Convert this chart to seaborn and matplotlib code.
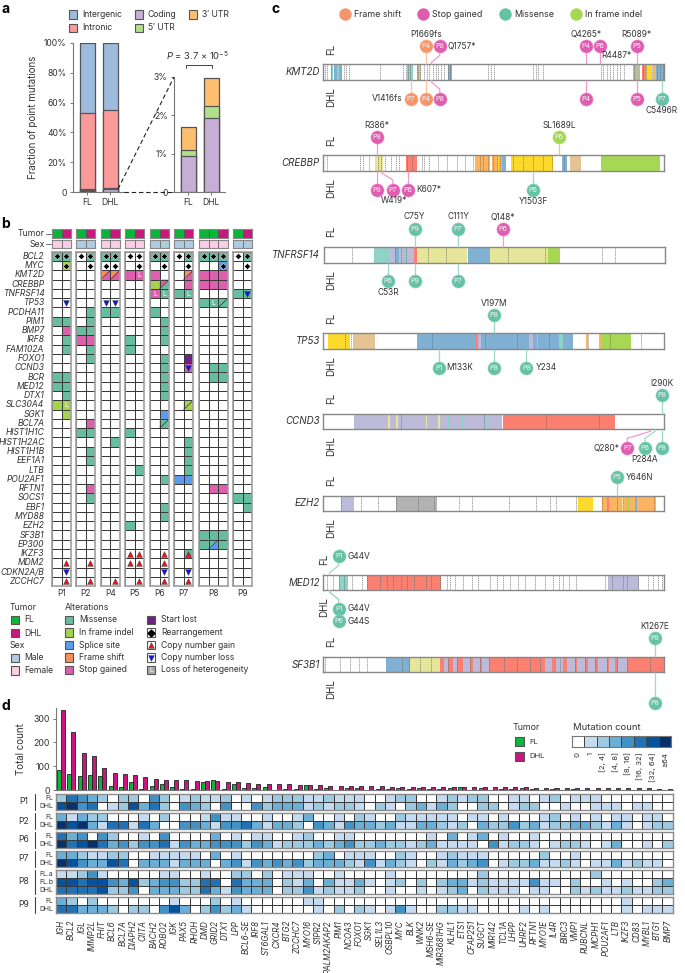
import matplotlib
matplotlib.use('Agg')
import matplotlib.pyplot as plt
import seaborn as sns
import numpy as np
import pandas as pd
from matplotlib.colors import ListedColormap

sns.set_theme(style="white")
plt.rcParams['font.family'] = ['Inter', 'DejaVu Sans']
plt.rcParams['mathtext.fontset'] = 'custom'
plt.rcParams['mathtext.rm'] = 'Inter'
plt.rcParams['mathtext.it'] = 'Inter:italic'

W, H = 685, 973
TXT = '#333333'

# --- Data, panel a ---
groups = ['FL', 'DHL']
region_names = ['Intergenic', 'Intronic', 'Coding', "5′ UTR", "3′ UTR"]
intronic_top = [52.8, 54.8]
coding_zoom = [0.93, 1.93]
utr5_top = [1.09, 2.25]
utr3_top = [1.70, 2.98]

# --- Data, panel b ---
onco_genes = ['BCL2', 'MYC', 'KMT2D', 'CREBBP', 'TNFRSF14', 'TP53', 'PCDHA11', 'PIM1', 'BMP7', 'IRF8',
              'FAM102A', 'FOXO1', 'CCND3', 'BCR', 'MED12', 'DTX1', 'SLC30A4', 'SGK1', 'BCL7A', 'HIST1H1C',
              'HIST1H2AC', 'HIST1H1B', 'EEF1A1', 'LTB', 'POU2AF1', 'RFTN1', 'SOCS1', 'EBF1', 'MYD88', 'EZH2',
              'SF3B1', 'EP300', 'IKZF3', 'MDM2', 'CDKN2A/B', 'ZCCHC7']
patients = ['P1', 'P2', 'P4', 'P5', 'P6', 'P7', 'P8', 'P9']
patient_tumors = [[0, 1], [0, 1], [0, 1], [0, 1], [0, 1], [0, 1], [0, 0, 1], [0, 1]]
patient_sex = [1, 0, 1, 1, 0, 0, 1, 0]

# codes: 1 missense, 2 indel, 3 splice, 4 frame shift, 5 stop, 6 start lost; sample index 0-16
onco_missense = {'BCL2': [0, 1, 3, 4, 5, 8, 9, 11, 12, 13, 14, 16], 'TNFRSF14': [9, 10, 11, 15, 16],
                 'TP53': [12, 13, 14], 'PCDHA11': [3, 4, 5, 8], 'PIM1': [0, 1, 3, 9], 'BMP7': [2, 3, 9],
                 'IRF8': [1, 6, 9], 'FAM102A': [1, 3, 6], 'FOXO1': [3, 9], 'CCND3': [9, 13, 14],
                 'BCR': [0, 1, 9, 13, 14], 'MED12': [0, 1, 9], 'DTX1': [1, 9], 'BCL7A': [9],
                 'HIST1H1C': [2, 3, 6], 'HIST1H2AC': [5, 11], 'HIST1H1B': [3, 11], 'EEF1A1': [3, 11],
                 'LTB': [7, 11], 'POU2AF1': [9], 'SOCS1': [3, 15, 16], 'EBF1': [9, 16], 'MYD88': [9],
                 'EZH2': [6], 'SF3B1': [12, 13, 14], 'EP300': [12, 14], 'IKZF3': [11]}
onco_indel = {'MYC': [1], 'CREBBP': [8], 'SLC30A4': [0, 1, 11], 'SGK1': [1]}
onco_splice = {'MYC': [14], 'SGK1': [9], 'POU2AF1': [10, 11]}
onco_stop = {'KMT2D': [6, 7, 8, 12, 13, 14], 'CREBBP': [11, 12, 13, 14], 'TNFRSF14': [8], 'BMP7': [1],
             'IRF8': [2, 3], 'CCND3': [11], 'BCL7A': [3], 'RFTN1': [3, 13, 14]}
onco_start = {'FOXO1': [11]}
onco_split = [('KMT2D', 4, 4, 5), ('KMT2D', 5, 4, 5), ('KMT2D', 11, 4, 5), ('CREBBP', 9, 5, 1),
              ('TP53', 14, 1, 1), ('SLC30A4', 11, 2, 2), ('BCL7A', 9, 1, 1), ('EP300', 13, 1, 3)]
rearranged = {'BCL2': list(range(17)), 'MYC': [1, 3, 4, 5, 7, 9, 11, 14, 16]}
cn_gain = {'IKZF3': [6, 7, 9, 11], 'MDM2': [1, 3, 6, 7, 9], 'ZCCHC7': [1, 3, 5, 7, 9, 11]}
cn_loss = {'TNFRSF14': [16], 'TP53': [1, 4, 5], 'CCND3': [11], 'CDKN2A/B': [1, 9, 11]}
loh = {'KMT2D': [7], 'TNFRSF14': [8, 9, 11], 'TP53': [13], 'SLC30A4': [1]}

# --- Data, panel c (positions in amino acids, features in 1/1023 of the track) ---
track_genes = ['KMT2D', 'CREBBP', 'TNFRSF14', 'TP53', 'CCND3', 'EZH2', 'MED12', 'SF3B1']
protein_len = {'KMT2D': 5537, 'CREBBP': 2442, 'TNFRSF14': 283, 'TP53': 393, 'CCND3': 292, 'EZH2': 751,
               'MED12': 2177, 'SF3B1': 1304}
kmt2d_muts = [(1669, 'FL', 'P4', 'fs', 'P1669fs'), (1757, 'FL', 'P8', 'stop', 'Q1757*'),
              (4265, 'FL', 'P4', 'stop', 'Q4265*'), (4487, 'FL', 'P6', 'stop', 'R4487*'),
              (5089, 'FL', 'P5', 'stop', 'R5089*'), (1416, 'DHL', 'P7', 'fs', 'V1416fs'),
              (1669, 'DHL', 'P4', 'fs', ''), (1757, 'DHL', 'P8', 'stop', ''), (4265, 'DHL', 'P4', 'stop', ''),
              (5089, 'DHL', 'P5', 'stop', ''), (5496, 'DHL', 'P7', 'mis', 'C5496R')]
crebbp_muts = [(386, 'FL', 'P8', 'stop', 'R386*'), (1689, 'FL', 'P6', 'indel', 'SL1689L'),
               (386, 'DHL', 'P8', 'stop', ''), (419, 'DHL', 'P7', 'stop', 'W419*'),
               (607, 'DHL', 'P6', 'stop', 'K607*'), (1503, 'DHL', 'P6', 'mis', 'Y1503F')]
tnfrsf14_muts = [(75, 'FL', 'P9', 'mis', 'C75Y'), (111, 'FL', 'P7', 'mis', 'C111Y'),
                 (148, 'FL', 'P6', 'stop', 'Q148*'), (53, 'DHL', 'P6', 'mis', 'C53R'),
                 (75, 'DHL', 'P9', 'mis', ''), (111, 'DHL', 'P7', 'mis', '')]
tp53_muts = [(197, 'FL', 'P8', 'mis', 'V197M'), (133, 'DHL', 'P1', 'mis', 'M133K'),
             (197, 'DHL', 'P8', 'mis', ''), (234, 'DHL', 'P8', 'mis', 'Y234')]
ccnd3_muts = [(290, 'FL', 'P8', 'mis', 'I290K'), (280, 'DHL', 'P7', 'stop', 'Q280*'),
              (284, 'DHL', 'P6', 'mis', 'P284A'), (290, 'DHL', 'P8', 'mis', '')]
ezh2_muts = [(646, 'FL', 'P5', 'mis', 'Y646N')]
med12_muts = [(44, 'FL', 'P1', 'mis', 'G44V'), (44, 'DHL', 'P1', 'mis', 'G44V'), (44, 'DHL', 'P6', 'mis', 'G44S')]
sf3b1_muts = [(1267, 'FL', 'P8', 'mis', 'K1267E'), (1267, 'DHL', 'P8', 'mis', '')]
track_muts = dict(zip(track_genes, [kmt2d_muts, crebbp_muts, tnfrsf14_muts, tp53_muts, ccnd3_muts, ezh2_muts,
                                    med12_muts, sf3b1_muts]))

kmt2d_domains = [(23, 30, 'teal'), (33, 40, 'blue'), (40, 47, 'teal'), (47, 55, 'blue'), (252, 268, 'teal'),
                 (280, 292, 'tan'), (373, 385, 'blue'), (930, 950, 'sage'), (956, 967, 'salmon'),
                 (968, 985, 'yellow'), (990, 998, 'orange'), (998, 1023, 'blue')]
crebbp_domains = [(155, 180, 'pale'), (247, 280, 'salmon'), (455, 500, 'orange'), (505, 535, 'orange'),
                  (520, 528, 'yellow'), (535, 548, 'blue'), (562, 690, 'yellow'), (715, 730, 'blue'),
                  (740, 773, 'tan'), (833, 1010, 'green')]
tnfrsf14_domains = [(148, 195, 'teal'), (195, 270, 'lav'), (213, 225, 'blue'), (235, 245, 'teal'),
                    (269, 277, 'salmon'), (277, 429, 'pale'), (432, 497, 'blue'), (497, 670, 'pale'),
                    (670, 706, 'green')]
tp53_domains = [(14, 80, 'yellow'), (88, 155, 'tan'), (281, 748, 'blue'), (457, 463, 'salmon'), (465, 472, 'lav'),
                (618, 630, 'lav'), (640, 645, 'teal'), (708, 720, 'teal'), (788, 795, 'orange'),
                (827, 833, 'orange'), (833, 922, 'green')]
ccnd3_domains = [(92, 535, 'lav'), (194, 200, 'pale'), (218, 224, 'pale'), (308, 311, 'pale'), (343, 350, 'pale'),
                 (373, 377, 'teal'), (415, 418, 'teal'), (485, 492, 'teal'), (538, 876, 'salmon')]
ezh2_domains = [(52, 92, 'lav'), (217, 340, 'gray'), (763, 808, 'yellow'), (835, 997, 'orange'), (850, 858, 'salmon'),
                (895, 903, 'pale'), (912, 918, 'green'), (935, 942, 'blue')]
med12_domains = [(49, 76, 'teal'), (134, 354, 'salmon'), (855, 948, 'lav')]
sf3b1_domains = [(188, 260, 'blue'), (260, 350, 'pale'), (350, 1023, 'salmon'), (362, 375, 'lav'), (390, 402, 'lav'),
                 (418, 440, 'lav'), (450, 470, 'lav'), (475, 498, 'lav'), (665, 685, 'lav'), (695, 720, 'lav'),
                 (730, 755, 'lav'), (762, 785, 'lav'), (795, 815, 'lav'), (825, 850, 'lav'), (858, 875, 'lav'),
                 (885, 910, 'lav')]
track_domains = dict(zip(track_genes, [kmt2d_domains, crebbp_domains, tnfrsf14_domains, tp53_domains, ccnd3_domains,
                                       ezh2_domains, med12_domains, sf3b1_domains]))

kmt2d_exons = [5, 12, 22, 62, 68, 76, 171, 240, 247, 253, 260, 280, 285, 290, 302, 310, 318, 328, 337, 345, 354, 362,
               373, 380, 495, 502, 512, 630, 637, 645, 660, 832, 840, 850, 860, 870, 880, 890, 902, 932, 960, 968, 985,
               1000, 1010, 1018]
crebbp_exons = [12, 110, 120, 136, 163, 173, 185, 202, 218, 228, 252, 265, 295, 302, 318, 345, 370, 402, 425, 450,
                470, 480, 495, 508, 520, 530, 570, 600, 630, 660, 685, 722]
tnfrsf14_exons = [82, 213, 230, 245, 311, 364, 552, 662, 834, 872]
tp53_exons = [65, 84, 325, 484, 582, 678, 794, 860, 952]
ccnd3_exons = [232, 482, 668, 828]
ezh2_exons = [53, 112, 165, 217, 285, 332, 407, 447, 558, 637, 680, 698, 757, 835, 880, 900, 992]
med12_exons = [14, 32, 49, 64, 87, 117, 134, 172, 192, 212, 234, 254, 274, 310, 324, 352, 372, 382, 397, 420, 447, 467,
               502, 522, 542, 562, 587, 607, 637, 667, 692, 710, 722, 740, 760, 847, 869, 900, 912, 947, 977, 990,
               1007, 1017]
sf3b1_exons = [5, 50, 80, 108, 130, 235, 256, 290, 323, 375, 402, 440, 470, 497, 543, 580, 620, 650, 695, 710, 755,
               785, 815, 852, 880, 910, 980]
track_exons = dict(zip(track_genes, [kmt2d_exons, crebbp_exons, tnfrsf14_exons, tp53_exons, ccnd3_exons, ezh2_exons,
                                     med12_exons, sf3b1_exons]))

# --- Data, panel d ---
sv_genes = ['IGH', 'BCL2', 'IGL', 'IMMP2L', 'FHIT', 'BCL6', 'BCL7A', 'DIAPH2', 'CIITA', 'BACH2',
            'ROBO2', 'IGK', 'PAX5', 'RHOH', 'DMD', 'GRID2', 'DTX1', 'LPP', 'BCL6-SE', 'IRF8',
            'ST6GAL1', 'CXCR4', 'BTG2', 'ZCCHC7', 'MYO16', 'S1PR2', 'PALM2AKAP2', 'PIM1', 'NCOA3', 'FOXO1',
            'SGK1', 'SEL1L3', 'OSBPL10', 'MYC', 'BLK', 'WNK2', 'MSH6-SE', 'MIR3681HG', 'KLHL1', 'ETS1',
            'CFAP251', 'SUGCT', 'MIR142', 'TCL1A', 'LHPP', 'UHRF2', 'RFTN1', 'MYO1E', 'IL4R', 'BIRC3',
            'VMP1', 'RUBCNL', 'MCPH1', 'POU2AF1', 'LTB', 'IKZF3', 'CD83', 'MYBL1', 'BTG1', 'BMP7']
count_fl = [85, 68, 60, 62, 58, 18, 12, 35, 5, 18, 27, 14, 3, 5, 33, 40, 3, 25, 8, 8, 12, 1, 4, 4, 19, 3, 8, 2, 7,
            8, 2, 6, 3, 10, 5, 8, 3, 6, 9, 12, 2, 8, 1, 4, 5, 10, 4, 1, 3, 1, 3, 1, 2, 1, 2, 2, 1, 1, 1, 1]
count_dhl = [338, 242, 155, 142, 92, 72, 68, 65, 53, 48, 42, 42, 40, 38, 38, 37, 35, 33, 28, 25, 25, 24, 24, 22, 22,
             20, 17, 16, 16, 16, 15, 15, 14, 14, 14, 14, 13, 13, 13, 13, 12, 12, 12, 11, 11, 11, 10, 10, 9, 9, 9, 9,
             8, 8, 8, 7, 7, 7, 6, 6]
p1_fl = "2543202204" "2012112010" "1222112111" "0012200121" "2200110120" "1110000000"
p1_dhl = "6745012635" "2043204004" "2333121221" "0210231320" "0220122001" "0011101100"
p2_fl = "3132200010" "2000141100" "1001300102" "1002111110" "1101000120" "1010110110"
p2_dhl = "7673155153" "0044314453" "1332043143" "3231133212" "0322423122" "3321310122"
p6_fl = "5340420010" "4000030101" "1001200110" "0000001030" "1301001000" "0000000000"
p6_dhl = "7567534244" "5143344424" "3122232342" "2322123111" "1041221012" "2101300102"
p7_fl = "3321122001" "1111030100" "0000023011" "1002100121" "1100000200" "1000000000"
p7_dhl = "7643365033" "3133303414" "3434233321" "4132102132" "3401223112" "1011312110"
p8_fla = "1124100000" "1100100220" "2011100100" "0010000000" "0200000000" "0020000000"
p8_flb = "6656643623" "4422550533" "3021303113" "1012020233" "1211114110" "2001010023"
p8_dhl = "5555622403" "3322531433" "3022412112" "0010010123" "0211101100" "2121121122"
p9_fl = "3202000000" "0100020100" "0000110000" "0000000000" "0000000000" "0000010000"
p9_dhl = "5533320220" "4630242310" "0000010202" "1014100221" "1000010100" "0000010111"
heat_groups = ['P1', 'P2', 'P6', 'P7', 'P8', 'P9']
heat_rows = [[p1_fl, p1_dhl], [p2_fl, p2_dhl], [p6_fl, p6_dhl], [p7_fl, p7_dhl], [p8_fla, p8_flb, p8_dhl], [p9_fl, p9_dhl]]
heat_row_names = [['FL', 'DHL'], ['FL', 'DHL'], ['FL', 'DHL'], ['FL', 'DHL'], ['FL.a', 'FL.b', 'DHL'], ['FL', 'DHL']]
count_bins = ['0', '1', '[2, 4]', '[4, 8]', '[8, 16]', '[16, 32]', '[32, 64]', '≥64']

# --- Colours ---
c_fl, c_dhl = '#0bb53c', '#c9177e'
c_male, c_female = '#aecbe3', '#fbcde6'
region_colors = ['#9dbbdc', '#fb9a99', '#c7aed6', '#b2df8a', '#fdbf6f']
alt_colors = ['#ffffff', '#66bd9f', '#a6d24e', '#5b9cf0', '#f98f5c', '#dd5fae', '#6a2383']
mut_colors = {'fs': '#f4956a', 'stop': '#df5db0', 'mis': '#66c2a5', 'indel': '#a6d854'}
stalk_colors = {'fs': '#fcc2a4', 'stop': '#f09ad2', 'mis': '#9fd9c7', 'indel': '#bfe07e'}
dom_colors = {'teal': '#8dd3c7', 'blue': '#80b1d3', 'tan': '#e5c494', 'sage': '#b5bf9f', 'salmon': '#fb8072',
              'yellow': '#fdd92b', 'orange': '#fdb462', 'pale': '#e6e69a', 'green': '#a6d854', 'lav': '#bebada',
              'gray': '#b3b3b3'}
blues = ['#ffffff', '#c6dbef', '#9ecae1', '#6baed6', '#4292c6', '#2171b5', '#08519c', '#08306b']

fig = plt.figure(figsize=(W / 100, H / 100), dpi=100)


def px_ax(x0, y0, x1, y1, **kw):
    return fig.add_axes([x0 / W, 1 - y1 / H, (x1 - x0) / W, (y1 - y0) / H], **kw)


# overlay in pixels for labels and legends
cv = px_ax(0, 0, W, H, zorder=20)
cv.set_xlim(0, W)
cv.set_ylim(H, 0)
cv.axis('off')


def label(x, y, s, size=6.2, ha='left', va='center', **kw):
    kw.setdefault('color', TXT)
    cv.text(x, y, s, fontsize=size, ha=ha, va=va, **kw)


def square(x, y, color, w=8.5, h=8.5, edge='#555555'):
    cv.add_patch(plt.Rectangle((x, y - h / 2), w, h, facecolor=color, edgecolor=edge, lw=0.8))


for s, x, y in [('a', 1, 9), ('b', 1, 224), ('c', 272, 9), ('d', 1, 706)]:
    label(x, y, s, size=10, fontweight='bold', color='black')

# --- Panel a ---
for i, name in enumerate(region_names):
    x, y = [(69, 14.5), (69, 28), (135, 14.5), (135, 28), (189, 14.5)][i]
    square(x, y, region_colors[i])
    label(x + 13, y, name, size=6.2)


def stack_bars(ax, layers, colors):
    for vals, col in zip(layers, colors):
        df = pd.DataFrame({'group': groups, 'value': vals})
        sns.barplot(data=df, x='group', y='value', color=col, saturation=1, width=0.65, ax=ax,
                    edgecolor='#555555', linewidth=0.9)
    ax.set_xlim(-0.61, 1.6)
    ax.set_xlabel('')
    ax.set_ylabel('')
    sns.despine(ax=ax)
    for sp in ['left', 'bottom']:
        ax.spines[sp].set_color('#777777')
        ax.spines[sp].set_linewidth(0.8)
    ax.tick_params(axis='both', length=2.5, width=0.7, color='#777777', labelsize=6.2, pad=2, labelcolor=TXT, left=True, bottom=True)


ax = px_ax(73, 43, 124, 192)
stack_bars(ax, [[100, 100], intronic_top, utr3_top, utr5_top, coding_zoom],
           [region_colors[0], region_colors[1], region_colors[4], region_colors[3], region_colors[2]])
ax.set_ylim(0, 100)
ax.set_yticks([0, 20, 40, 60, 80, 100], ['0', '20%', '40%', '60%', '80%', '100%'])
label(33, 117.5, 'Fraction of point mutations', size=7, rotation=90, ha='center')

ax = px_ax(174, 77, 225, 192)
stack_bars(ax, [utr3_top, utr5_top, coding_zoom], [region_colors[4], region_colors[3], region_colors[2]])
ax.set_ylim(0, 3)
ax.set_yticks([0, 1, 2, 3], ['0', '1%', '2%', '3%'])

cv.plot([118, 174], [189, 77], color='#222222', lw=0.8, ls=(0, (4, 2.5)))
cv.plot([124, 172], [192, 192], color='#222222', lw=0.8, ls=(0, (4, 2.5)))
cv.plot([186, 186, 212, 212], [68, 64.5, 64.5, 68], color='#444444', lw=0.7)
label(197.5, 56, r'$\mathit{P}$ = 3.7 × 10$^{−5}$', size=6.8, ha='center')

# --- Panel b ---
onco = np.zeros((len(onco_genes), 17), dtype=int)
for code, table in [(1, onco_missense), (2, onco_indel), (3, onco_splice), (5, onco_stop), (6, onco_start)]:
    for g, samples in table.items():
        onco[onco_genes.index(g), samples] = code
onco[onco_genes.index('CREBBP'), 9] = 0

group_x = [52, 76, 100.7, 125, 150, 174, 199, 233]
cell_w, cell_h = 9.65, 9.29
onco_top = 251.7
sample_to_ax = []
alt_cmap = ListedColormap(alt_colors)
line_dark = '#3a3a3a'


def thin_frame(ax, color='#999999', lw=1.0):
    for sp in ax.spines.values():
        sp.set_visible(True)
        sp.set_color(color)
        sp.set_linewidth(lw)


start = 0
for k, x0 in enumerate(group_x):
    n = len(patient_tumors[k])
    x1 = x0 + n * cell_w
    tum_ax = px_ax(x0, 229.3, x1, 237.7)
    sns.heatmap([patient_tumors[k]], cmap=ListedColormap([c_fl, c_dhl]), vmin=0, vmax=1, cbar=False, ax=tum_ax,
                xticklabels=False, yticklabels=False, linewidths=0.5, linecolor='#555555')
    thin_frame(tum_ax, '#888888', 0.8)
    sex_ax = px_ax(x0, 240.3, x1, 248.3)
    sns.heatmap([[patient_sex[k]] * n], cmap=ListedColormap([c_male, c_female]), vmin=0, vmax=1, cbar=False, ax=sex_ax,
                xticklabels=False, yticklabels=False, linewidths=0.5, linecolor='#777777')
    thin_frame(sex_ax, '#888888', 0.8)
    gene_ax = px_ax(x0, onco_top, x1, onco_top + cell_h * len(onco_genes))
    sns.heatmap(onco[:, start:start + n], cmap=alt_cmap, vmin=0, vmax=6, cbar=False, ax=gene_ax,
                xticklabels=False, yticklabels=False, linewidths=0.7, linecolor=line_dark)
    thin_frame(gene_ax, '#a0a0a0', 1.2)
    for j in range(n):
        sample_to_ax.append((gene_ax, j))
    label((x0 + x1) / 2, 593, patients[k], size=6, ha='center')
    start += n

for (g, s, a, b) in onco_split:
    ax, j = sample_to_ax[s]
    i = onco_genes.index(g)
    ax.fill([j, j + 1, j], [i, i, i + 1], color=alt_colors[a], lw=0)
    ax.fill([j + 1, j + 1, j], [i, i + 1, i + 1], color=alt_colors[b], lw=0)
    ax.plot([j, j + 1], [i + 1, i], color='#333333', lw=0.5)
    ax.add_patch(plt.Rectangle((j, i), 1, 1, fill=False, edgecolor=line_dark, lw=0.7))

for g, samples in rearranged.items():
    for s in samples:
        ax, j = sample_to_ax[s]
        ax.scatter(j + 0.5, onco_genes.index(g) + 0.5, marker='D', s=10, color='black', edgecolor='white', linewidth=0.3, zorder=5)
for table, marker, col in [(cn_gain, '^', '#e8141c'), (cn_loss, 'v', '#1414d8')]:
    for g, samples in table.items():
        for s in samples:
            ax, j = sample_to_ax[s]
            ax.scatter(j + 0.5, onco_genes.index(g) + 0.5, marker=marker, s=17, color=col, edgecolor='#333333', linewidth=0.3, zorder=5)
for g, samples in loh.items():
    for s in samples:
        ax, j = sample_to_ax[s]
        ax.text(j + 0.5, onco_genes.index(g) + 0.52, 'L', color='#ffffff', fontsize=5, ha='center', va='center', zorder=6)

for i, g in enumerate(onco_genes):
    label(44.5, onco_top + cell_h * (i + 0.5), g, size=6.1, ha='right', style='italic')
for y, s in [(233.5, 'Tumor'), (244.3, 'Sex')]:
    label(44.5, y, s, size=6.3, ha='right')
    cv.plot([46.5, 51.5], [y, y], color='#555555', lw=0.6)

# legend b
label(10, 608, 'Tumor', size=6.3)
label(10, 646, 'Sex', size=6.3)
label(65, 608, 'Alterations', size=6.3)
for y, c, s in [(620, c_fl, 'FL'), (633, c_dhl, 'DHL'), (658, c_male, 'Male'), (670.5, c_female, 'Female')]:
    square(11, y, c)
    label(24, y, s)
for y, c, s in zip([620, 632.7, 645, 657.5, 670], alt_colors[1:6], ['Missense', 'In frame indel', 'Splice site', 'Frame shift', 'Stop gained']):
    square(65, y, c)
    label(79, y, s)
ys = [620, 632.7, 645, 657.5, 670]
square(147, ys[0], alt_colors[6])
label(161, ys[0], 'Start lost')
for y, s in zip(ys[1:], ['Rearrangement', 'Copy number gain', 'Copy number loss', 'Loss of heterogeneity']):
    square(147, y, '#ffffff' if 'Loss' not in s else '#aaaaaa')
    label(161, y, s)
cv.scatter(151.2, ys[1], marker='D', s=12, color='black', zorder=5)
cv.scatter(151.2, ys[2], marker='^', s=17, color='#e8141c', edgecolor='#333333', linewidth=0.3, zorder=5)
cv.scatter(151.2, ys[3], marker='v', s=17, color='#1414d8', edgecolor='#333333', linewidth=0.3, zorder=5)
label(151.2, ys[4] + 0.2, 'L', size=5, ha='center', color='white')

# --- Panel c ---
for x, c, s in zip([344.7, 422.7, 505, 575.7], ['fs', 'stop', 'mis', 'indel'], ['Frame shift', 'Stop gained', 'Missense', 'In frame indel']):
    cv.scatter(x, 14.3, s=80, color=mut_colors[c], linewidth=0)
    label(x + 9.5, 14.5, s, size=6.4)

track_box = {'KMT2D': (323.3, 72.2), 'CREBBP': (323.3, 163.2), 'TNFRSF14': (324.3, 254.8), 'TP53': (323.3, 341.2),
             'CCND3': (323.3, 421.5), 'EZH2': (323.3, 503.5), 'MED12': (322.7, 582.5), 'SF3B1': (323.3, 664.5)}
# head shift in pixels where the lollipop head leaves its position
head_shift = {('KMT2D', 'P8'): 8.3, ('CREBBP', 'W419*'): 11, ('CCND3', 'Q280*'): -23, ('CCND3', 'P284A'): -10,
              ('MED12', 'P1'): 9, ('MED12', 'P6'): 9}
label_place = {'Q1757*': ('left', 8, 0), 'R4487*': ('center', 17, 9.3), 'V1416fs': ('right', -8, 0),
               'W419*': ('center', 1, 11), 'K607*': ('left', 8, 0), 'M133K': ('left', 8, 0), 'Y234': ('left', 9, 0),
               'Q280*': ('right', -8, 0), 'Y646N': ('left', 9, 0), 'G44V': ('left', 9, 0), 'G44S': ('left', 9, 0)}
half = 7.85
for g in track_genes:
    x0, yc = track_box[g]
    tax = px_ax(x0, yc - half, x0 + 341, yc + half, zorder=5)
    tax.set_xlim(0, 1023)
    tax.set_ylim(half, -half)
    tax.set_xticks([])
    tax.set_yticks([])
    thin_frame(tax, '#888888', 1.0)
    for a, b, c in track_domains[g]:
        tax.axvspan(a, b, color=dom_colors[c], lw=0)
    for e in track_exons[g]:
        tax.axvline(e, color='#666666', lw=0.45, ls=(0, (1.8, 1.2)))
    px_unit = 1023 / 341
    lab_x = 331 if g != 'MED12' else 324
    label(320, yc, g, size=7, ha='right', style='italic')
    label(lab_x, yc - 23, 'FL', size=7, rotation=90, ha='center')
    label(lab_x, yc + 25, 'DHL', size=7, rotation=90, ha='center')
    stacked = {}
    for aa, tumor, patient, kind, name in track_muts[g]:
        pos = aa / protein_len[g] * 1023
        sign = -1 if tumor == 'FL' else 1
        shift = head_shift.get((g, patient), head_shift.get((g, name), 0))
        hx = pos + shift * px_unit
        n_here = stacked.get(tumor, 0) if g == 'MED12' and tumor == 'DHL' else 0
        stacked[tumor] = stacked.get(tumor, 0) + 1
        hy = sign * (26.3 + n_here * 12.3)
        if g == 'SF3B1' and tumor == 'DHL':
            hy = 38
        if shift:
            path_x = [pos, pos, hx, hx]
            path_y = [sign * half, sign * (half + 2), sign * (half + 9), hy]
        else:
            path_x = [pos, pos]
            path_y = [sign * half, hy]
        tax.plot(path_x, path_y, color=stalk_colors[kind], lw=0.9, clip_on=False, zorder=6, solid_capstyle='butt')
        tax.scatter(hx, hy, s=90, color=mut_colors[kind], edgecolor=stalk_colors[kind], linewidth=0.4, clip_on=False, zorder=7)
        tax.text(hx, hy + 0.1, patient, color='#f4f4f4', fontsize=5.2, ha='center', va='center', zorder=8, clip_on=False)
        if name:
            ha, dx, dy = label_place.get(name, ('center', 0, sign * 11.7))
            tax.text(hx + dx * px_unit, hy + dy, name, color=TXT, fontsize=6, ha=ha, va='center', zorder=8, clip_on=False)

# --- Panel d: bars ---
bars = pd.DataFrame({'gene': sv_genes * 2, 'tumor': ['FL'] * 60 + ['DHL'] * 60, 'count': count_fl + count_dhl})
bar_ax = px_ax(56, 708, 672.7, 790)
sns.barplot(data=bars, x='gene', y='count', hue='tumor', hue_order=['FL', 'DHL'], order=sv_genes,
            palette={'FL': c_fl, 'DHL': c_dhl}, saturation=1, width=0.78, legend=False, ax=bar_ax,
            edgecolor='#222222', linewidth=0.6)
bar_ax.set_xlim(-0.5, 59.5)
bar_ax.set_ylim(0, 345)
bar_ax.set_xlabel('')
bar_ax.set_ylabel('')
bar_ax.set_xticks([])
bar_ax.set_yticks([0, 100, 200, 300])
bar_ax.tick_params(axis='y', length=2.5, width=0.7, color='#777777', labelsize=6.3, pad=2, labelcolor=TXT, left=True)
sns.despine(ax=bar_ax)
bar_ax.spines['bottom'].set_color('#777777')
bar_ax.spines['left'].set_color('#777777')
bar_ax.spines['bottom'].set_linewidth(0.8)
bar_ax.spines['left'].set_linewidth(0.8)
label(21, 749, 'Total count', size=7, rotation=90, ha='center')

# --- Panel d: heatmaps ---
row_tops = [794, 813.3, 832, 851, 870, 896.7]
row_bots = [809.7, 829, 847.5, 866.5, 893.5, 912.5]
count_cmap = ListedColormap(blues)
for name, rows, names, y0, y1 in zip(heat_groups, heat_rows, heat_row_names, row_tops, row_bots):
    mat = np.array([[int(c) for c in r] for r in rows])
    hax = px_ax(56, y0, 672.7, y1)
    sns.heatmap(mat, cmap=count_cmap, vmin=0, vmax=7, cbar=False, ax=hax, xticklabels=False, yticklabels=False,
                linewidths=0.55, linecolor='#3a3a3a')
    thin_frame(hax, '#8a8a8a', 1.0)
    row_h = (y1 - y0) / len(rows)
    for i, rn in enumerate(names):
        label(53, y0 + row_h * (i + 0.5), rn, size=4.9, ha='right')
    label(23.5, (y0 + y1) / 2, name, size=6.2, ha='center')
    cv.plot([35.5, 35.5], [y0, y1], color='#444444', lw=0.8)

for i, g in enumerate(sv_genes):
    label(56 + 10.28 * (i + 0.5), 920, g, size=5.8, rotation=90, ha='center', va='top', style='italic')

# legend d
label(512.5, 728, 'Tumor', size=6.4)
square(515.5, 741.5, c_fl, w=8.5, h=9)
label(529, 741.5, 'FL', size=5.6)
square(515.5, 756.5, c_dhl, w=8.5, h=9)
label(529, 756.5, 'DHL', size=5.6)
label(573, 727.5, 'Mutation count', size=6.8)
leg_ax = px_ax(571.7, 735.7, 671, 747, zorder=21)
sns.heatmap([list(range(8))], cmap=count_cmap, vmin=0, vmax=7, cbar=False, ax=leg_ax, xticklabels=False,
            yticklabels=False, linewidths=0.6, linecolor='#444444')
thin_frame(leg_ax, '#777777', 0.8)
for i, s in enumerate(count_bins):
    label(571.7 + 12.41 * (i + 0.5), 752, s, size=5.6, rotation=90, ha='center', va='top')

fig.savefig('out.png', dpi=100)
